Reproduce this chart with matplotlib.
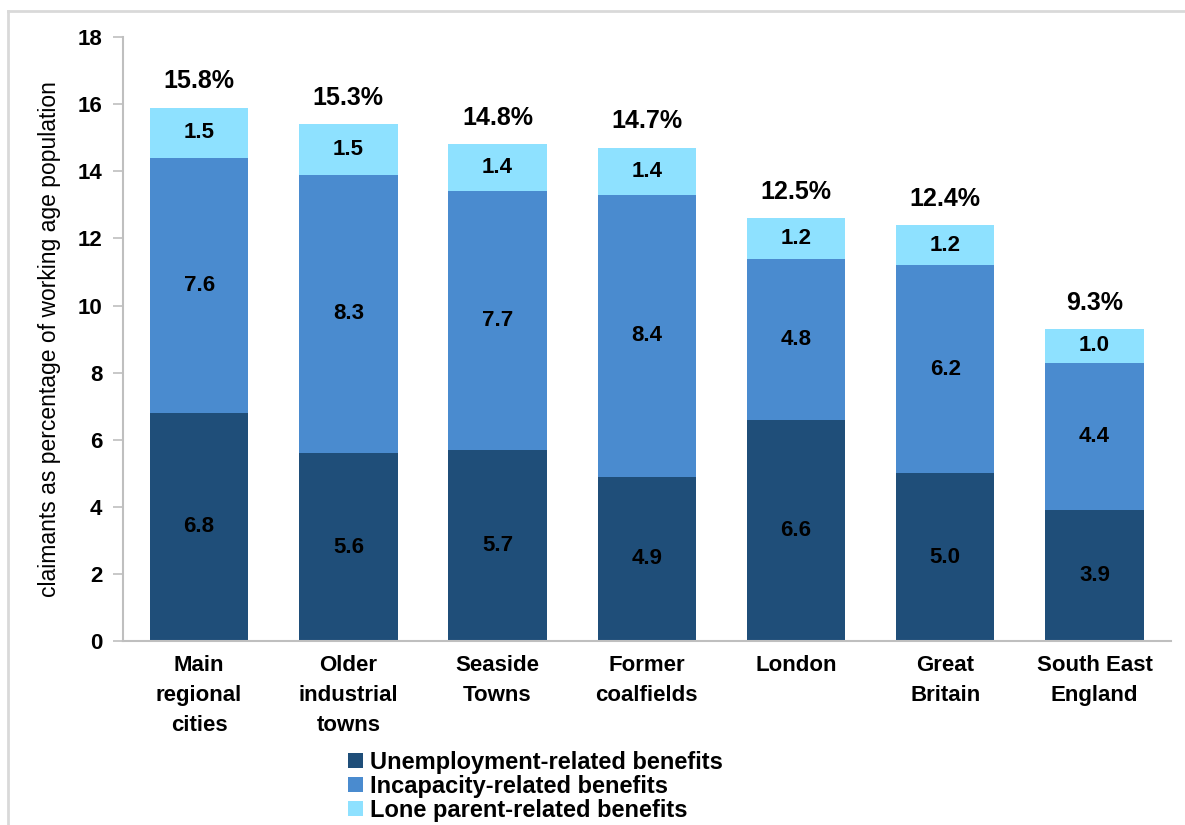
import matplotlib.pyplot as plt
from matplotlib.lines import Line2D

# data
categories = ['Main\nregional\ncities', 'Older\nindustrial\ntowns', 'Seaside\nTowns',
              'Former\ncoalfields', 'London', 'Great\nBritain', 'South East\nEngland']
unemployment = [6.8, 5.6, 5.7, 4.9, 6.6, 5.0, 3.9]
incapacity = [7.6, 8.3, 7.7, 8.4, 4.8, 6.2, 4.4]
lone_parent = [1.5, 1.5, 1.4, 1.4, 1.2, 1.2, 1.0]
totals = ['15.8%', '15.3%', '14.8%', '14.7%', '12.5%', '12.4%', '9.3%']
series_names = ['Unemployment-related benefits', 'Incapacity-related benefits',
                'Lone parent-related benefits']
colors = ['#1F4E79', '#4A8BCF', '#8EE1FF']

plt.rcParams['font.family'] = ['Liberation Sans', 'DejaVu Sans']

fig = plt.figure(figsize=(11.85, 8.25), dpi=100)
ax = fig.add_axes([0.1038, 0.223, 0.884, 0.732])

x = range(len(categories))
width = 0.66
b1 = ax.bar(x, unemployment, width, color=colors[0], label=series_names[0])
b2 = ax.bar(x, incapacity, width, bottom=unemployment, color=colors[1], label=series_names[1])
bottom3 = [u + i for u, i in zip(unemployment, incapacity)]
b3 = ax.bar(x, lone_parent, width, bottom=bottom3, color=colors[2], label=series_names[2])

for bars in (b1, b2, b3):
    ax.bar_label(bars, fmt='%.1f', label_type='center', fontsize=16,
                 fontweight='bold', color='black')

for xi, b, lp, t in zip(x, bottom3, lone_parent, totals):
    ax.annotate(t, (xi, b + lp), xytext=(0, 19), textcoords='offset points',
                ha='center', va='center', fontsize=18, fontweight='bold')

ax.set_ylim(0, 18)
ax.set_xlim(-0.51, 6.51)
ax.set_yticks(range(0, 19, 2))
ax.set_xticks(list(x))
ax.set_xticklabels(categories, fontsize=16, fontweight='bold', linespacing=1.55)
ax.tick_params(axis='x', length=0, pad=10)
ax.tick_params(axis='y', labelsize=16, length=7, color='#BFBFBF', width=1.2, pad=8)
for lbl in ax.get_yticklabels():
    lbl.set_fontweight('bold')
ax.set_ylabel('claimants as percentage of working age population', fontsize=16.5, labelpad=12)

for s in ('top', 'right'):
    ax.spines[s].set_visible(False)
for s in ('left', 'bottom'):
    ax.spines[s].set_color('#BFBFBF')
    ax.spines[s].set_linewidth(1.5)

fig.legend(handles=[b1, b2, b3], labels=series_names, loc='upper left',
           bbox_to_anchor=(0.294, 0.09), frameon=False,
           prop={'weight': 'bold', 'size': 17}, handlelength=0.6, handleheight=0.6,
           handletextpad=0.3, labelspacing=0.05, borderpad=0, borderaxespad=0)

# thin frame at left and top of the picture
fig.add_artist(Line2D([8 / 1185, 8 / 1185], [0, 1 - 11 / 825], color='#D9D9D9',
                      lw=2, transform=fig.transFigure))
fig.add_artist(Line2D([8 / 1185, 1], [1 - 11 / 825, 1 - 11 / 825], color='#D9D9D9',
                      lw=2, transform=fig.transFigure))

fig.savefig('out.png', dpi=100)
